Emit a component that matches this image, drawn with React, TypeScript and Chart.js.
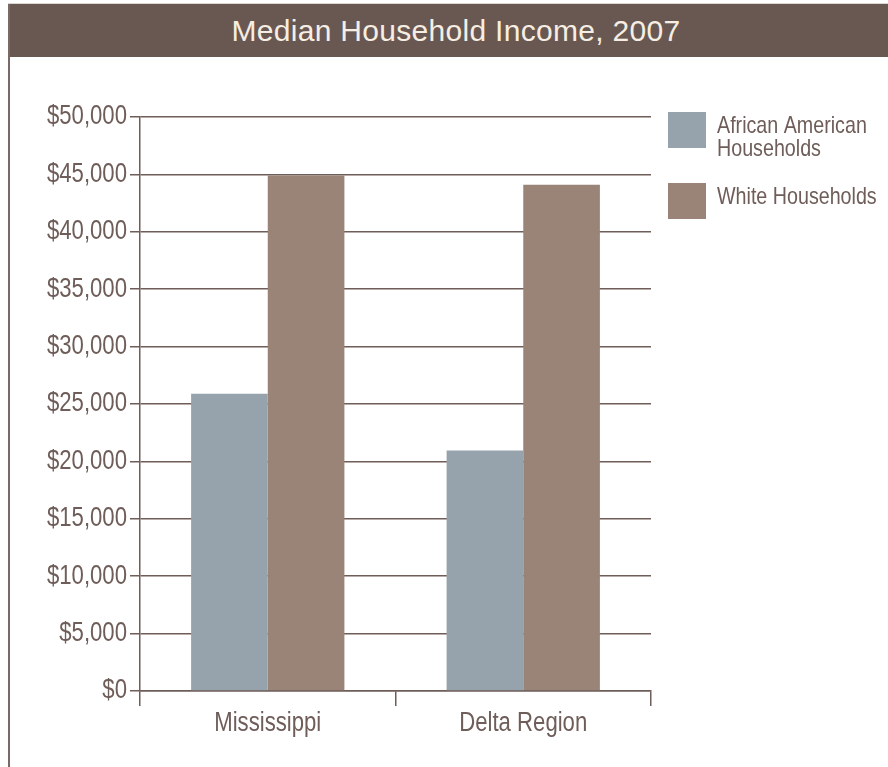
import React, { useEffect, useRef } from "react";
import { Chart, registerables } from "chart.js";

Chart.register(...registerables);

const categories = ["Mississippi", "Delta Region"];
const africanAmerican = [25900, 20950];
const white = [44900, 44100];
const seriesLabels = ["African American Households", "White Households"];
const legendLines = [["African American", "Households"], ["White Households"]];
const seriesColors = ["#97a3ac", "#9a8477"];
const yMin = 0;
const yMax = 50000;
const yStep = 5000;

const INK = "#6e5d58";
const FONT = '"Liberation Sans", Arial, sans-serif';
const NARROW_X = 0.82;

// Condensed text: draw with a horizontal squeeze about the anchor point.
const condensedTextPlugin = {
  id: "condensedText",
  beforeDraw(chart: any) {
    const ctx = chart.ctx;
    if (ctx.__origFillText) return;
    const orig = ctx.fillText;
    ctx.__origFillText = orig;
    ctx.fillText = function (text: string, x: number, y: number) {
      this.save();
      this.translate(x, y);
      this.scale(NARROW_X, 1);
      orig.call(this, text, 0, 0);
      this.restore();
    };
  },
  afterDraw(chart: any) {
    const ctx = chart.ctx;
    const { right, top } = chart.chartArea;
    ctx.save();
    ctx.font = `24px ${FONT}`;
    ctx.textAlign = "left";
    ctx.textBaseline = "alphabetic";
    chart.data.datasets.forEach((ds: any, i: number) => {
      const boxTop = top - 5 + i * 71;
      ctx.fillStyle = ds.backgroundColor;
      ctx.fillRect(right + 17, boxTop, 38, 36);
      ctx.fillStyle = INK;
      legendLines[i].forEach((ln, j) => {
        ctx.fillText(ln, right + 66, boxTop + 20.5 + j * 23);
      });
    });
    ctx.restore();
    if (ctx.__origFillText) {
      ctx.fillText = ctx.__origFillText;
      delete ctx.__origFillText;
    }
  },
};

export default function App() {
  const ref = useRef<HTMLCanvasElement | null>(null);

  useEffect(() => {
    if (!ref.current) return;
    const chart = new Chart(ref.current, {
      type: "bar",
      data: {
        labels: categories,
        datasets: [
          {
            label: seriesLabels[0],
            data: africanAmerican,
            backgroundColor: seriesColors[0],
            borderWidth: 0,
            categoryPercentage: 0.6,
            barPercentage: 1.0,
          },
          {
            label: seriesLabels[1],
            data: white,
            backgroundColor: seriesColors[1],
            borderWidth: 0,
            categoryPercentage: 0.6,
            barPercentage: 1.0,
          },
        ],
      },
      options: {
        animation: false,
        responsive: false,
        maintainAspectRatio: false,
        layout: { padding: { top: 117, right: 237, left: 0, bottom: 0 } },
        plugins: {
          legend: { display: false },
          tooltip: { enabled: false },
          title: { display: false },
        },
        scales: {
          x: {
            grid: {
              offset: true,
              drawOnChartArea: false,
              drawTicks: true,
              tickLength: 15,
              color: INK,
              lineWidth: 1.5,
            },
            border: { display: true, color: INK, width: 1.5 },
            ticks: {
              color: INK,
              padding: 1,
              font: { family: FONT, size: 27 },
            },
            afterFit(scale: any) {
              scale.height = 76;
            },
          },
          y: {
            min: yMin,
            max: yMax,
            grid: {
              color: INK,
              lineWidth: 1.5,
              tickLength: 10,
              drawTicks: true,
            },
            border: { display: true, color: INK, width: 1.5 },
            ticks: {
              stepSize: yStep,
              color: INK,
              padding: 3,
              font: { family: FONT, size: 27 },
              callback: (v: any) => "$" + Number(v).toLocaleString("en-US"),
            },
            afterFit(scale: any) {
              scale.width = 140;
            },
          },
        },
      },
      plugins: [condensedTextPlugin],
    });
    return () => chart.destroy();
  }, []);

  return (
    <div
      style={{
        position: "fixed",
        left: 0,
        top: 0,
        width: 888,
        height: 767,
        overflow: "hidden",
        background: "#ffffff",
      }}
    >
      <div
        style={{
          position: "absolute",
          left: 8,
          top: 3,
          width: 896,
          height: 1,
          background: "#dcd6d3",
        }}
      />
      <div
        style={{
          position: "absolute",
          left: 8,
          top: 4,
          width: 896,
          height: 53,
          background: "#695852",
          color: "#f6eee2",
          fontFamily: FONT,
          fontSize: 30,
          letterSpacing: "0.3px",
          lineHeight: "53px",
          textAlign: "center",
          whiteSpace: "nowrap",
        }}
      >
        Median Household Income, 2007
      </div>
      <div
        style={{
          position: "absolute",
          left: 7.5,
          top: 4,
          width: 2,
          height: 763,
          background: "#7a6a65",
        }}
      />
      <canvas
        ref={ref}
        width={888}
        height={767}
        style={{ position: "absolute", left: 0, top: 0, width: 888, height: 767 }}
      />
    </div>
  );
}
